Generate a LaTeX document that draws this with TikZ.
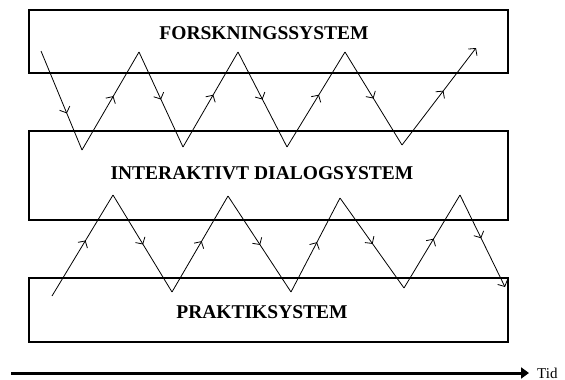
\documentclass[tikz,border=0pt]{standalone}
\usepackage{fontspec}
\setmainfont{Liberation Serif}
\usetikzlibrary{arrows.meta,decorations.markings}
\tikzset{
  sysbox/.style={draw,line width=1.1pt,rectangle,inner sep=0pt},
  syslabel/.style={font=\fontsize{19.5}{19.5}\selectfont\bfseries,inner sep=0pt},
  zig/.style={line width=0.8pt},
  midarrow/.style={postaction={decorate,decoration={markings,
      mark=at position #1 with {\arrow{Straight Barb[length=5pt,width=11pt,line width=0.8pt]}}}}},
  endarrow/.style={-{Straight Barb[length=5pt,width=11pt]}},
  timearrow/.style={line width=3pt,-{Triangle[length=8pt,width=11pt]}}
}
\begin{document}
\begin{tikzpicture}[x=1pt,y=-1pt]
\useasboundingbox (0,0) rectangle (565,380);
% boxes
\node[sysbox,minimum width=479pt,minimum height=63pt] (fs) at (268.5,41.5) {};
\node[sysbox,minimum width=479pt,minimum height=89pt] (ids) at (268.5,175.5) {};
\node[sysbox,minimum width=479pt,minimum height=64pt] (ps) at (268.5,310) {};
\node[syslabel] (fsl) at (264,33) {FORSKNINGSSYSTEM};
\node[syslabel] (idsl) at (262,173) {INTERAKTIVT DIALOGSYSTEM};
\node[syslabel] (psl) at (262,312) {PRAKTIKSYSTEM};
% top zigzag vertices
\coordinate (t0) at (41,51);
\coordinate (t1) at (82,150);
\coordinate (t2) at (139,52);
\coordinate (t3) at (183,147);
\coordinate (t4) at (238,52);
\coordinate (t5) at (287,147);
\coordinate (t6) at (345,52);
\coordinate (t7) at (402,145);
\coordinate (t8) at (476,48);
\draw[zig,midarrow=0.63] (t0) -- (t1);
\draw[zig,midarrow=0.55] (t1) -- (t2);
\draw[zig,midarrow=0.5] (t2) -- (t3);
\draw[zig,midarrow=0.55] (t3) -- (t4);
\draw[zig,midarrow=0.5] (t4) -- (t5);
\draw[zig,midarrow=0.55] (t5) -- (t6);
\draw[zig,midarrow=0.5] (t6) -- (t7);
\draw[zig,midarrow=0.56,endarrow] (t7) -- (t8);
% bottom zigzag vertices
\coordinate (b0) at (52,296);
\coordinate (b1) at (113,195);
\coordinate (b2) at (172,292);
\coordinate (b3) at (228,196);
\coordinate (b4) at (291,292);
\coordinate (b5) at (340,198);
\coordinate (b6) at (404,288);
\coordinate (b7) at (460,195);
\coordinate (b8) at (505,287);
\draw[zig,midarrow=0.55] (b0) -- (b1);
\draw[zig,midarrow=0.51] (b1) -- (b2);
\draw[zig,midarrow=0.53] (b2) -- (b3);
\draw[zig,midarrow=0.51] (b3) -- (b4);
\draw[zig,midarrow=0.53] (b4) -- (b5);
\draw[zig,midarrow=0.51] (b5) -- (b6);
\draw[zig,midarrow=0.53] (b6) -- (b7);
\draw[zig,midarrow=0.47,endarrow] (b7) -- (b8);
% time axis
\coordinate (ts) at (11,373);
\node[anchor=west,font=\fontsize{15}{15}\selectfont,inner sep=1pt] (tid) at (536,373) {Tid};
\draw[timearrow] (ts) -- (tid.west -| 529,0);
\end{tikzpicture}
\end{document}
